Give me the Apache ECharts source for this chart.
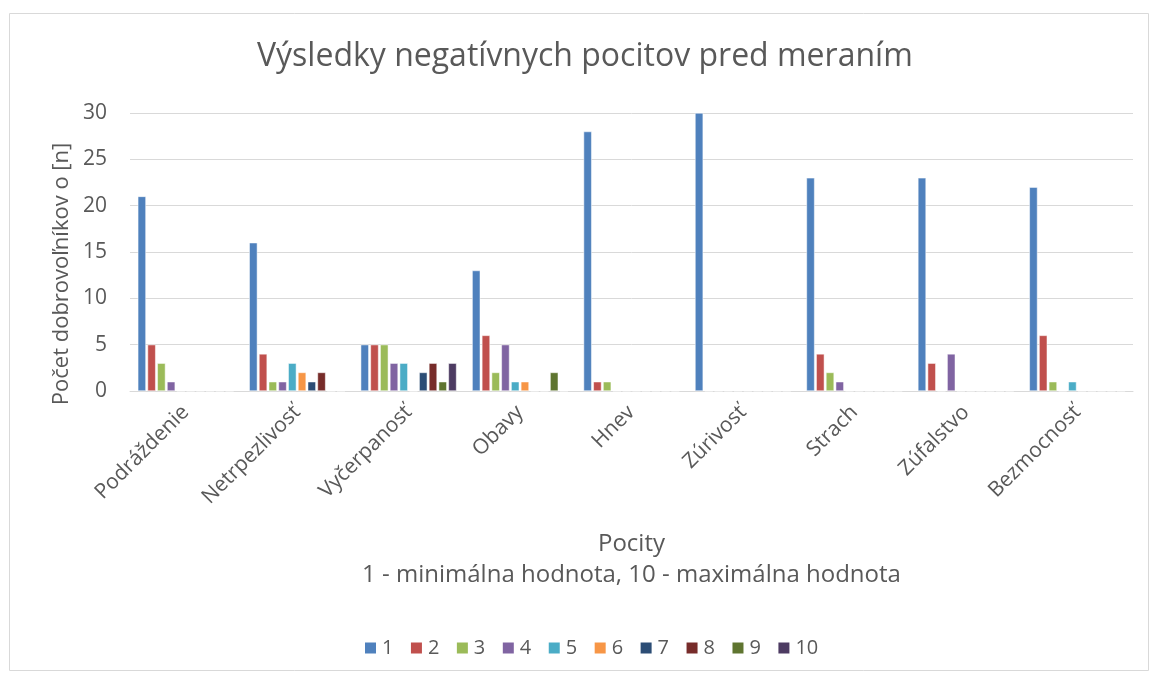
<!DOCTYPE html>
<html><head><meta charset="utf-8">
<script src="https://cdn.jsdelivr.net/npm/echarts@6/dist/echarts.min.js"></script>
<style>html,body{margin:0;padding:0;background:#fff}#c{width:1154px;height:675px}</style>
</head><body><div id="c"></div>
<script>
const categories = ['Podráždenie','Netrpezlivosť','Vyčerpanosť','Obavy','Hnev','Zúrivosť','Strach','Zúfalstvo','Bezmocnosť'];
const seriesNames = ['1','2','3','4','5','6','7','8','9','10'];
const s1  = [21,16,5,13,28,30,23,23,22];
const s2  = [5,4,5,6,1,0,4,3,6];
const s3  = [3,1,5,2,1,0,2,0,1];
const s4  = [1,1,3,5,0,0,1,4,0];
const s5  = [0,3,3,1,0,0,0,0,1];
const s6  = [0,2,0,1,0,0,0,0,0];
const s7  = [0,1,2,0,0,0,0,0,0];
const s8  = [0,2,3,0,0,0,0,0,0];
const s9  = [0,0,1,2,0,0,0,0,0];
const s10 = [0,0,3,0,0,0,0,0,0];
const yTicks = [0,5,10,15,20,25,30];
const yName = 'Počet dobrovoľníkov o [n]';
const colors = ['#4F81BD','#C0504D','#9BBB59','#8064A2','#4BACC6','#F79646','#2C4D75','#772C2A','#5F7530','#4D3B62'];
const allSeries = [s1,s2,s3,s4,s5,s6,s7,s8,s9,s10];
const FONT = 'Open Sans';
const chart = echarts.init(document.getElementById('c'), null, {renderer:'canvas'});
chart.setOption({
  animation:false,
  textStyle:{fontFamily:FONT},
  color:colors,
  graphic:[
    {type:'rect',shape:{x:9.5,y:13.5,width:1139,height:657},style:{fill:'none',stroke:'#d9d9d9',lineWidth:1},silent:true},
    {type:'text',x:62,y:274,rotation:Math.PI/2,style:{text:yName,font:'22px "Open Sans"',fill:'#595959',align:'center',verticalAlign:'middle'},silent:true}
  ],
  title:{text:'Výsledky negatívnych pocitov pred meraním',left:252,top:36,
    textStyle:{fontFamily:FONT,fontSize:32,fontWeight:'normal',color:'#595959'}},
  grid:{left:130,right:21,top:113,bottom:284},
  legend:{bottom:12,left:358,icon:'rect',itemWidth:13,itemHeight:13,itemGap:15.5,
    textStyle:{fontFamily:FONT,fontSize:20,color:'#595959'},data:seriesNames},
  xAxis:{type:'category',data:categories,
    axisLine:{lineStyle:{color:'#d9d9d9',width:1}},axisTick:{show:false},
    axisLabel:{rotate:45,interval:0,fontSize:21,color:'#595959',margin:18,fontFamily:FONT},
    name:'Pocity\n1 - minimálna hodnota, 10 - maximálna hodnota',nameLocation:'middle',nameGap:138,
    nameTextStyle:{fontSize:24,color:'#595959',lineHeight:31,fontFamily:FONT}},
  yAxis:{type:'value',min:yTicks[0],max:yTicks[yTicks.length-1],interval:5,
    axisLine:{show:false},axisTick:{show:false},
    axisLabel:{fontSize:21,color:'#595959',margin:23,fontFamily:FONT},
    splitLine:{lineStyle:{color:'#d9d9d9',width:1}}},
  series:allSeries.map((d,i)=>({name:seriesNames[i],type:'bar',data:d,
    barGap:'20%',barCategoryGap:'14%',
    itemStyle:{color:colors[i],borderColor:'#fff',borderWidth:0.5}}))
});
</script></body></html>
